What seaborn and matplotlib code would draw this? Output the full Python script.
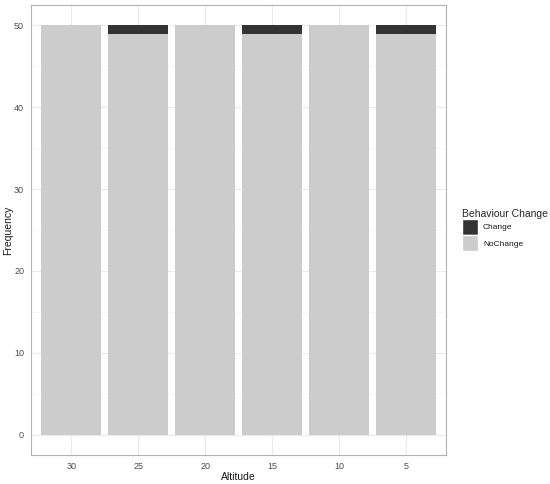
import matplotlib
matplotlib.use('Agg')
import matplotlib.pyplot as plt
import matplotlib.patches as mpatches
import numpy as np
import pandas as pd
import seaborn as sns

# Data
altitudes = ['30', '25', '20', '15', '10', '5']
no_change = [50, 49, 50, 49, 50, 49]
change = [0, 1, 0, 1, 0, 1]

df = pd.DataFrame({'Altitude': altitudes,
                   'NoChange': no_change,
                   'Change': change})
df['Total'] = df['NoChange'] + df['Change']

sns.set_theme(style='white')
plt.rcParams['font.family'] = ['Liberation Sans', 'DejaVu Sans']

fig = plt.figure(figsize=(5.5, 4.84), dpi=100)
ax = fig.add_axes([0.0564, 0.0599, 0.7546, 0.9298])

dark = '#333333'
light = '#CCCCCC'

# stacked bars: total drawn dark, NoChange drawn on top in light grey
sns.barplot(data=df, x='Altitude', y='Total', order=altitudes,
            color=dark, saturation=1, width=0.9, ax=ax, zorder=3,
            linewidth=0)
sns.barplot(data=df, x='Altitude', y='NoChange', order=altitudes,
            color=light, saturation=1, width=0.9, ax=ax, zorder=4,
            linewidth=0)

ax.set_xlim(-0.6, 5.6)
ax.set_ylim(-2.5, 52.5)
ax.set_yticks([0, 10, 20, 30, 40, 50])
ax.set_yticks([5, 15, 25, 35, 45], minor=True)

ax.grid(True, which='major', color='#EBEBEB', linewidth=0.8, zorder=0)
ax.grid(True, which='minor', axis='y', color='#F4F4F4', linewidth=0.5,
        zorder=0)
ax.set_axisbelow(True)
for s in ax.spines.values():
    s.set_color('#B3B3B3')
    s.set_linewidth(0.8)

ax.tick_params(axis='both', which='major', length=3, width=0.6,
               color='#B3B3B3', labelsize=6.5, labelcolor='#4D4D4D', pad=2)
ax.tick_params(axis='both', which='minor', length=0)
ax.set_xlabel('Altitude', fontsize=7.5, color='#1A1A1A', labelpad=1)
ax.set_ylabel('Frequency', fontsize=7.5, color='#1A1A1A', labelpad=1)

handles = [mpatches.Patch(facecolor=dark, label='Change'),
           mpatches.Patch(facecolor=light, label='NoChange')]
leg = ax.legend(handles=handles, title='Behaviour Change',
                loc='center left', bbox_to_anchor=(1.019, 0.5),
                frameon=False, fontsize=6, title_fontsize=7.5,
                handlelength=1.9, handleheight=2.6, handletextpad=0.6,
                labelspacing=0.0, borderaxespad=0.6)
leg._legend_box.align = 'left'
for t in leg.get_texts():
    t.set_color('#1A1A1A')

fig.savefig('out.png', dpi=100)
